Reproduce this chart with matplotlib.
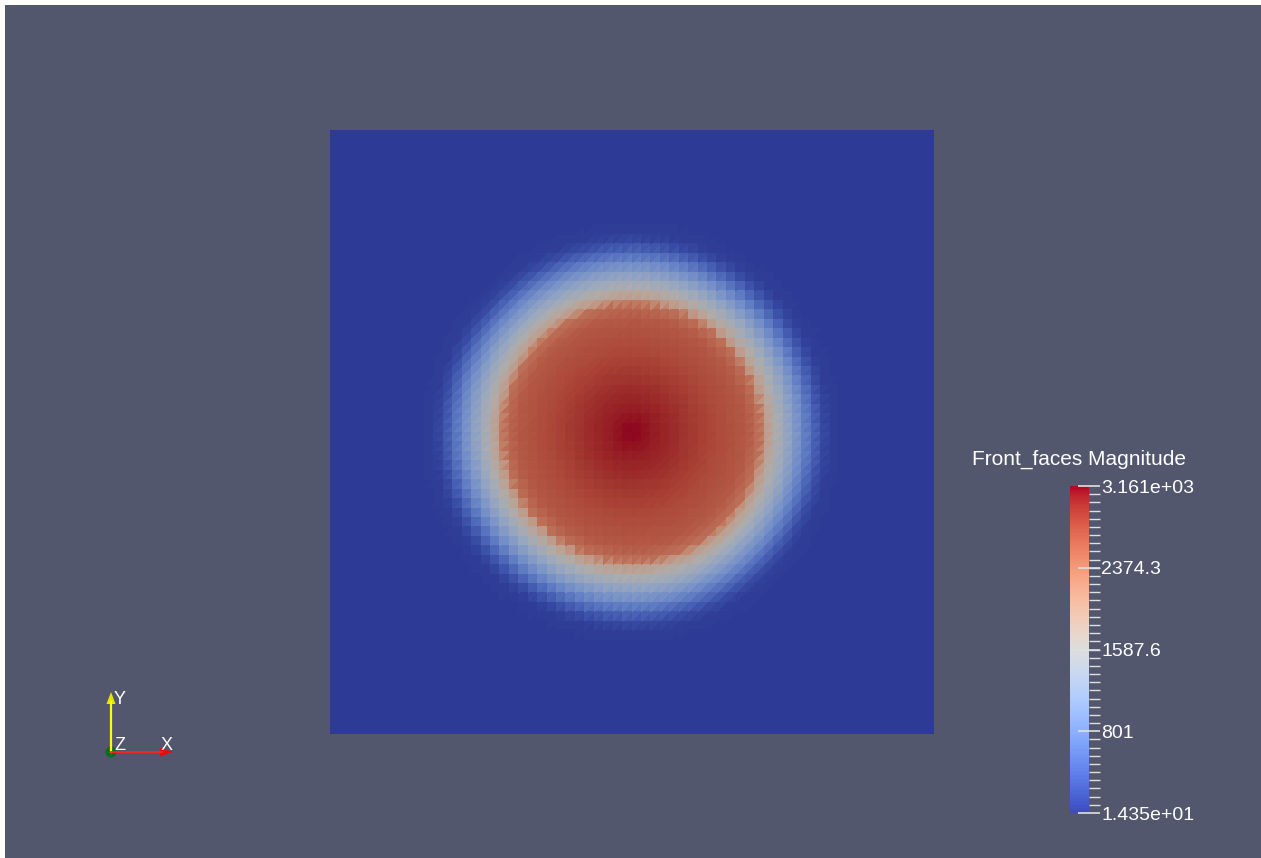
import numpy as np
import matplotlib
matplotlib.use("Agg")
import matplotlib.pyplot as plt
import matplotlib.tri as mtri
from matplotlib.colors import ListedColormap, Normalize
from matplotlib.cm import ScalarMappable
from matplotlib.patches import Rectangle, Circle, Polygon

# Radial profile of the face magnitude (radius as fraction of the plate width)
profile_radius = [0.0, 0.066, 0.132, 0.190, 0.212, 0.220, 0.240, 0.262, 0.281, 0.298, 0.315, 0.331, 0.40, 0.75]
profile_magnitude = [3161.0, 3000.0, 2800.0, 2650.0, 2450.0, 2000.0, 1550.0, 1150.0, 800.0, 450.0, 150.0, 30.0, 14.35, 14.35]

value_min = 14.35
value_max = 3161.0
cbar_ticks = [14.35, 801.0, 1587.6, 2374.3, 3161.0]
cbar_labels = ["1.435e+01", "801", "1587.6", "2374.3", "3.161e+03"]
cbar_title = "Front_faces Magnitude"
n_cells = 64

W, H = 1261, 858
BG = "#52576e"
fig = plt.figure(figsize=(W / 100, H / 100), dpi=100, facecolor=BG)

def fig_rect(x0, y0, x1, y1):
    return [x0 / W, (H - y1) / H, (x1 - x0) / W, (y1 - y0) / H]

# Structured plate mesh split into triangles
g = np.linspace(0.0, 1.0, n_cells + 1)
X, Y = np.meshgrid(g, g)
xs, ys = X.ravel(), Y.ravel()
tris = []
for j in range(n_cells):
    for i in range(n_cells):
        a = j * (n_cells + 1) + i
        b = a + 1
        d = a + (n_cells + 1)
        c = d + 1
        tris.append([a, b, c])
        tris.append([a, c, d])
tris = np.array(tris)
triang = mtri.Triangulation(xs, ys, tris)
cx = xs[tris].mean(axis=1)
cy = ys[tris].mean(axis=1)
rad = np.hypot(cx - 0.5, cy - 0.5)
face_vals = np.interp(rad, profile_radius, profile_magnitude)

base = plt.get_cmap("coolwarm")
shade = 0.78
lit = base(np.linspace(0, 1, 256))
lit[:, :3] *= shade
lit_cmap = ListedColormap(lit)
norm = Normalize(vmin=value_min, vmax=value_max)

ax = fig.add_axes(fig_rect(330, 130, 934, 734))
ax.tripcolor(triang, facecolors=face_vals, cmap=lit_cmap, norm=norm,
             edgecolors="none", antialiased=False)
ax.set_xlim(0, 1)
ax.set_ylim(0, 1)
ax.set_axis_off()

# Scalar bar
cax = fig.add_axes(fig_rect(1070, 486, 1089, 813))
sm = ScalarMappable(norm=norm, cmap=base)
cb = fig.colorbar(sm, cax=cax, orientation="vertical")
cb.outline.set_visible(False)
cb.set_ticks(cbar_ticks)
cb.set_ticklabels(cbar_labels)
cb.ax.yaxis.set_ticks(np.linspace(value_min, value_max, 41), minor=True)
cb.ax.tick_params(which="major", direction="inout", length=16, width=1.2,
                  color="#e0e0e0", labelcolor="white", labelsize=14, pad=1)
cb.ax.tick_params(which="minor", direction="out", length=8, width=1.0,
                  color="#e0e0e0")
for t in cb.ax.get_yticklabels():
    t.set_family("Liberation Sans")
fig.text(1079 / W, 1 - 459 / H, cbar_title, color="white", fontsize=15,
         family="Liberation Sans", ha="center", va="center")

# Orientation triad and frame overlay
ov = fig.add_axes([0, 0, 1, 1], facecolor="none")
ov.set_xlim(0, W)
ov.set_ylim(H, 0)
ov.set_axis_off()
ov.add_patch(Rectangle((0, 0), 5, H, facecolor="white", edgecolor="none"))
ov.add_patch(Rectangle((0, 0), W, 5, facecolor="white", edgecolor="none"))

ox, oy = 111, 752
ov.plot([ox, ox], [oy, 702], color="#ffff00", lw=1.6)
ov.add_patch(Polygon([[ox - 4.5, 704], [ox + 4.5, 704], [ox, 692]], closed=True,
                     facecolor="#e6e600", edgecolor="none"))
ov.plot([ox, 162], [oy, oy], color="#ff2020", lw=1.3)
ov.add_patch(Polygon([[160, oy - 4.5], [160, oy + 4.5], [173, oy]], closed=True,
                     facecolor="#e01010", edgecolor="none"))
ov.add_patch(Circle((ox, oy), 5.5, facecolor="#0b6b1f", edgecolor="none"))
ov.text(114, 699, "Y", color="white", fontsize=13, family="Liberation Sans", va="center")
ov.text(114, 745, "Z", color="white", fontsize=13, family="Liberation Sans", va="center")
ov.text(161, 746, "X", color="white", fontsize=13, family="Liberation Sans", va="center")

fig.savefig("out.png", dpi=100, facecolor=BG)
